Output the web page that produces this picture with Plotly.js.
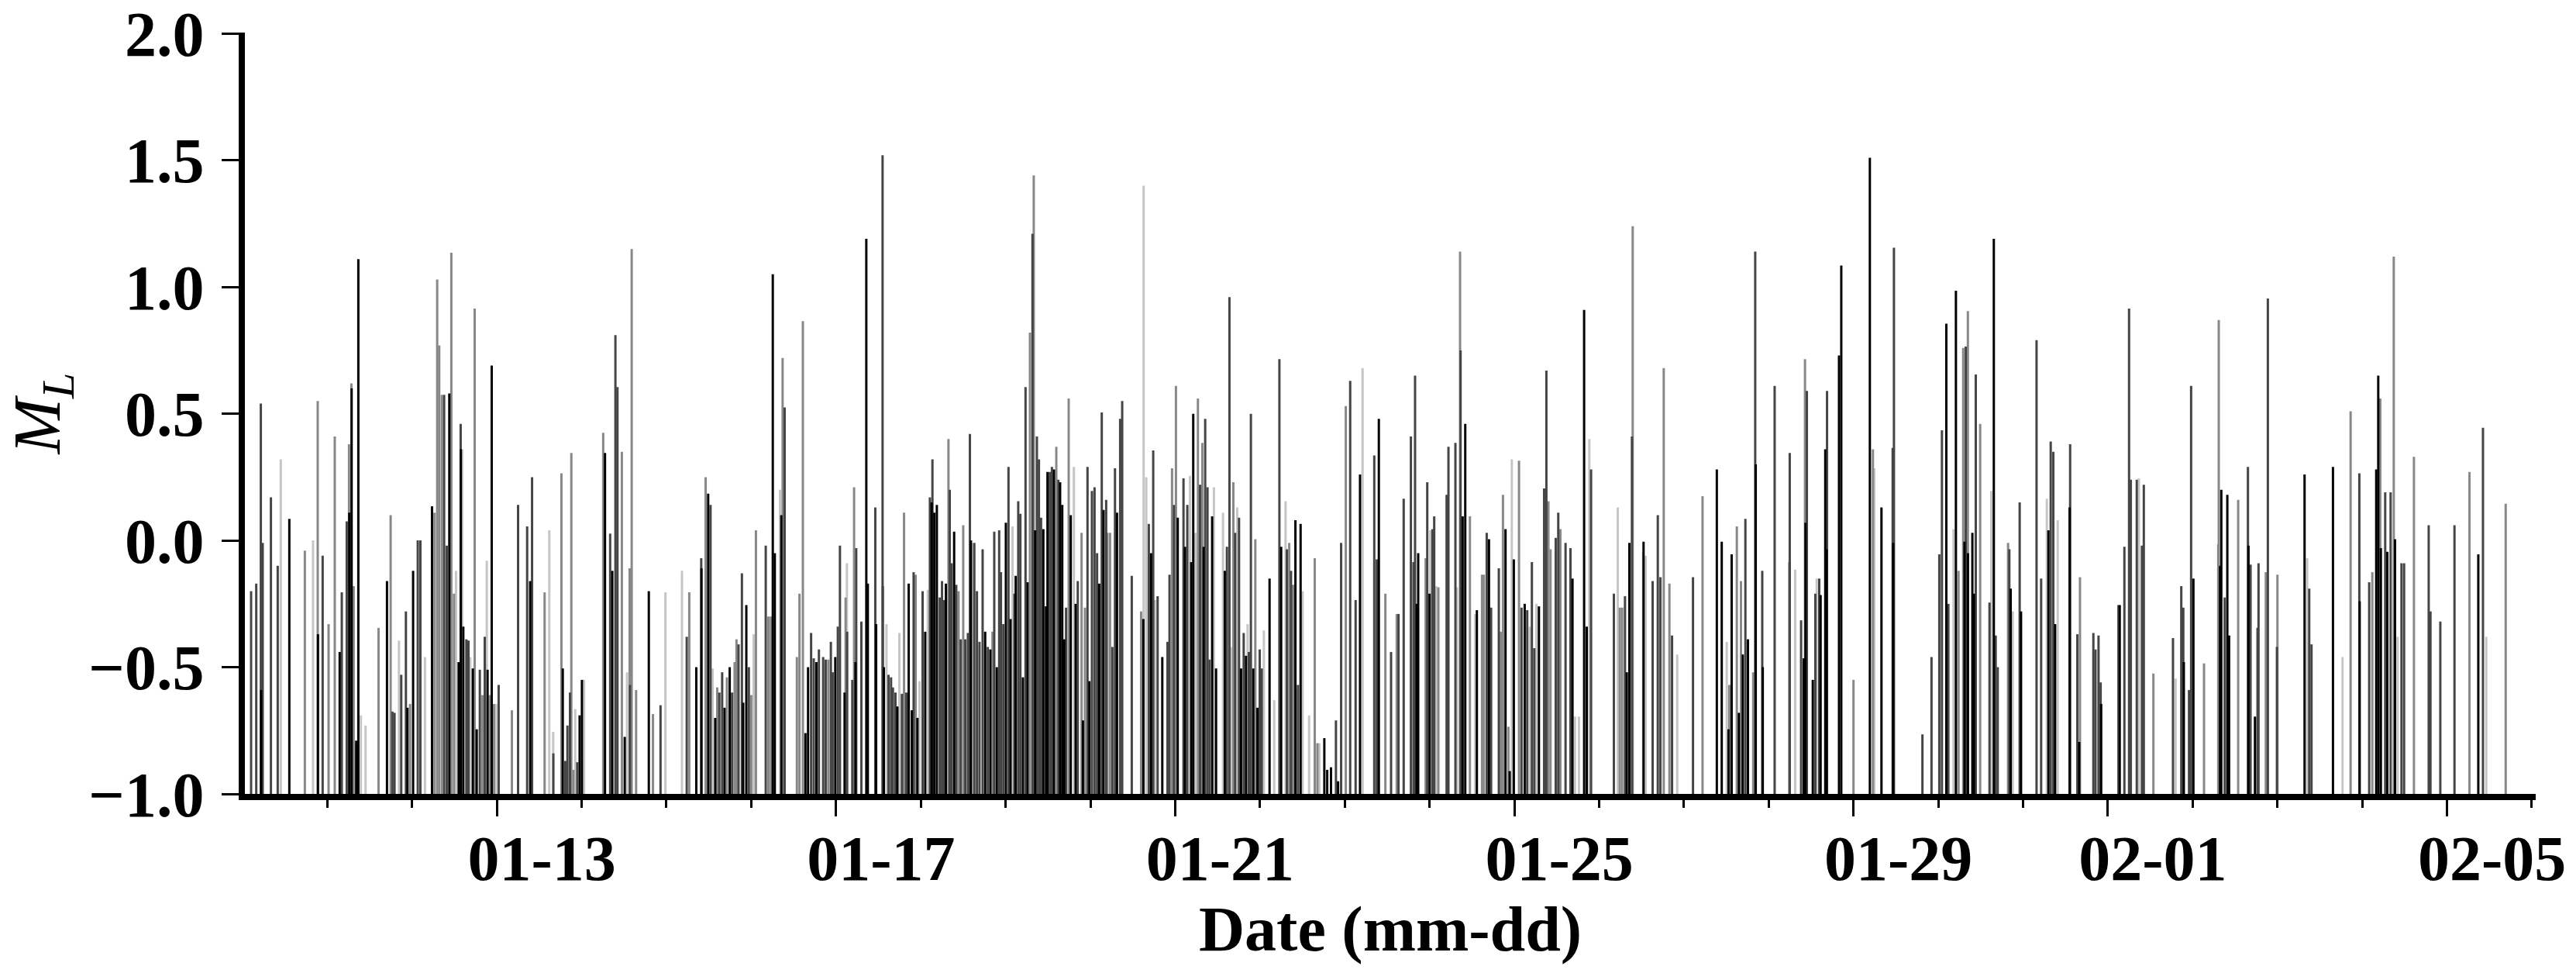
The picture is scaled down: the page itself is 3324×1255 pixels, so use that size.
<!DOCTYPE html>
<html>
<head>
<meta charset="utf-8">
<script src="https://cdn.plot.ly/plotly-3.0.1.min.js"></script>
<style>
  html, body { margin: 0; padding: 0; background: #ffffff; }
  #chart { width: 3324px; height: 1255px; }
</style>
</head>
<body>
<div id="chart"></div>
<script>
// Event times are given as "day of January" (fractional); values above 31 fall in February.
// Magnitudes (M_L), grouped by the grey shade of each stem.

const blackDay = [10.219,10.552,10.89,11.146,11.259,11.287,11.341,11.366,11.704,11.945,12.012,12.235,12.439,12.549,12.575,12.604,12.716,12.762,12.89,12.939,13.393,13.777,13.976,14.003,14.275,14.361,14.508,14.792,15.352,15.413,15.492,15.575,15.685,15.746,15.905,15.942,16.254,16.278,16.355,16.639,16.67,16.768,16.991,17.101,17.229,17.357,17.375,17.473,17.564,17.723,17.857,17.893,17.96,18.052,18.128,18.159,18.189,18.296,18.393,18.591,18.759,18.82,18.896,19.003,19.058,19.119,19.204,19.259,19.348,19.445,19.476,19.494,19.57,19.643,19.668,19.692,19.768,19.826,19.912,19.988,20.104,20.155,20.314,20.625,20.716,20.848,21.03,21.116,21.189,21.213,21.335,21.436,21.482,21.585,21.777,21.835,21.921,21.97,22.113,22.25,22.418,22.479,22.759,22.793,22.838,22.921,23.18,23.402,23.848,23.866,24.0,24.39,24.421,24.558,24.701,24.896,24.945,24.994,25.122,25.29,25.686,25.823,25.854,26.326,26.357,26.524,27.388,27.446,27.526,27.563,27.648,27.694,27.755,27.847,27.93,28.413,28.434,28.52,28.612,28.667,28.682,28.829,28.856,29.193,29.33,29.468,30.095,30.208,30.309,30.35,30.402,30.421,30.655,30.854,30.976,31.299,31.378,31.549,31.662,31.921,32.14,32.896,33.009,33.323,33.338,33.409,33.43,33.659,33.735,34.32,34.655,34.97,35.165,35.189,35.22,35.296,35.387,36.369];
const blackMag = [-0.59,0.085,-0.37,-0.44,0.11,0.60,-0.79,1.11,-0.16,-0.66,-0.12,0.135,0.58,-0.48,0.36,-0.34,-0.505,-0.745,-0.51,0.69,-0.16,-0.505,-0.69,-0.55,0.345,-0.12,-0.775,-0.20,-0.50,-0.11,0.185,-0.70,-0.66,-0.50,-0.64,-0.255,1.05,-0.05,0.10,-0.76,-0.50,-0.48,-0.46,-0.60,-0.48,1.19,-0.17,-0.33,-0.50,-0.655,-0.17,-0.67,-0.70,-0.36,0.15,0.11,0.14,-0.17,0.035,0.0,-0.36,-0.43,-0.50,0.07,-0.31,-0.14,-0.54,-0.165,0.04,0.045,-0.26,0.27,0.28,0.23,0.14,-0.39,0.10,-0.25,-0.71,-0.555,-0.17,0.12,0.11,-0.31,-0.05,-0.46,0.09,-0.025,-0.085,0.50,-0.025,0.095,-0.505,-0.12,-0.505,-0.455,-0.505,-0.66,-0.15,-0.025,0.08,0.065,-0.78,-0.905,-0.895,-0.95,0.26,0.48,-0.25,-0.05,-0.21,0.095,0.46,-0.275,0.005,0.045,-0.91,-0.075,-0.25,-0.26,-0.15,0.91,-0.34,-0.52,-0.01,-0.005,0.28,-0.005,-0.745,-0.055,-0.68,-0.45,-0.39,0.30,-0.50,-0.465,0.07,-0.55,-0.215,0.36,-0.035,0.73,1.085,1.51,0.13,-0.01,0.855,0.985,-0.005,-0.05,0.03,-0.21,1.19,-0.19,-0.28,0.04,-0.33,0.13,-0.795,-0.645,-0.255,-0.48,-0.15,-0.10,0.20,0.18,-0.375,-0.02,-0.695,0.26,0.29,-0.24,0.28,0.65,-0.03,-0.045,0.005,-0.055];

const darkDay = [10.101,10.162,10.216,10.238,10.335,10.415,10.945,11.171,11.229,11.768,11.793,11.872,11.927,12.067,12.098,12.378,12.409,12.573,12.64,12.665,12.799,12.857,13.021,13.25,13.357,13.415,13.666,13.807,13.832,13.862,13.948,14.336,14.398,14.422,14.569,14.93,15.239,15.41,15.52,15.624,15.657,15.774,15.85,15.89,15.972,16.171,16.394,16.706,16.737,16.798,16.848,16.878,16.939,16.96,17.021,17.046,17.131,17.192,17.238,17.299,17.463,17.549,17.552,17.619,17.649,17.671,17.701,17.777,17.829,17.915,18.021,18.107,18.137,18.223,18.25,18.274,18.341,18.363,18.418,18.47,18.524,18.555,18.579,18.631,18.662,18.692,18.729,18.79,18.866,18.924,18.945,18.973,19.034,19.104,19.149,19.174,19.235,19.317,19.369,19.393,19.418,19.521,19.546,19.622,19.713,19.851,19.966,20.018,20.049,20.079,20.134,20.186,20.259,20.29,20.351,20.375,20.488,20.689,20.741,20.793,20.909,20.933,20.985,21.098,21.143,21.293,21.354,21.381,21.405,21.61,21.64,21.707,21.753,21.808,21.869,21.893,21.997,22.021,22.229,22.317,22.366,22.448,22.896,22.957,23.064,23.128,23.348,23.378,23.546,23.634,23.695,23.78,23.811,23.829,23.973,24.034,24.055,24.201,24.223,24.305,24.366,24.674,24.726,24.817,25.085,25.152,25.207,25.235,25.351,25.378,25.488,25.518,25.604,25.662,25.905,26.174,26.305,26.387,26.631,26.692,26.723,26.86,27.107,27.725,27.841,27.924,28.07,28.245,28.248,28.382,28.45,28.55,28.596,28.688,29.462,29.477,29.813,29.92,30.012,30.043,30.119,30.324,30.442,30.604,30.677,30.701,30.838,30.96,31.159,31.213,31.326,31.357,31.555,31.64,31.829,31.854,31.89,31.915,32.125,32.195,32.25,32.271,32.341,32.402,32.424,32.768,32.866,32.89,32.957,32.982,33.378,33.652,33.683,33.765,33.777,33.887,33.994,34.375,34.402,34.966,35.082,35.271,35.335,35.463,35.494,35.784,35.805,35.921,36.088,36.424];
const darkMag = [-0.20,-0.17,0.54,-0.01,0.17,-0.10,-0.06,-0.205,0.075,-0.675,-0.68,-0.53,-0.28,0.0,0.0,0.575,-0.02,0.46,-0.39,-0.395,-0.51,-0.38,-0.57,0.14,0.055,0.25,-0.84,-0.87,-0.73,-0.60,-0.875,0.027,0.81,0.605,-0.57,-0.65,-0.38,-0.07,0.14,-0.60,-0.52,-0.60,-0.41,-0.13,-0.50,-0.02,0.525,-0.365,-0.465,-0.43,-0.46,-0.47,-0.40,-0.52,-0.34,-0.02,-0.36,-0.55,-0.03,-0.32,0.13,1.52,-0.18,-0.53,-0.54,-0.58,-0.60,-0.605,-0.60,-0.125,-0.20,0.17,0.32,-0.225,-0.16,-0.235,0.20,-0.09,-0.175,-0.39,-0.39,-0.365,0.42,-0.01,-0.20,-0.40,-0.035,-0.42,0.035,0.04,-0.125,-0.33,0.29,-0.21,0.155,0.105,0.605,1.21,0.41,0.32,0.09,0.27,0.29,0.24,-0.265,-0.16,0.29,0.195,0.21,-0.05,0.505,0.16,-0.42,0.285,0.48,0.55,-0.14,0.065,0.355,-0.22,-0.40,-0.135,0.14,0.245,0.14,0.22,0.48,0.21,-0.47,-0.025,0.96,0.03,0.09,-0.365,-0.44,0.50,-0.43,-0.505,0.715,-0.035,-0.12,-0.57,-0.71,-0.01,0.63,-0.235,0.335,-0.075,-0.44,-0.29,0.165,0.41,-0.085,0.65,0.23,0.045,0.095,0.18,0.37,0.385,0.75,0.03,-0.265,-0.11,-0.265,-0.275,-0.085,-0.425,0.205,0.67,0.01,0.11,-0.01,-0.03,0.28,-0.21,-0.22,0.41,-0.16,0.10,-0.145,-0.375,-0.145,0.085,1.14,-0.12,0.61,-0.085,0.345,-0.315,0.59,-0.21,-0.15,0.59,0.365,1.155,-0.765,-0.46,-0.055,0.435,-0.25,0.765,0.655,-0.245,-0.375,-0.50,-0.035,0.15,0.79,-0.15,0.39,0.35,0.38,-0.37,-0.365,-0.43,-0.375,-0.56,-0.255,-0.025,0.915,0.24,0.24,-0.02,0.22,-0.385,-0.18,-0.265,-0.59,0.61,-0.225,0.29,-0.095,-0.345,-0.09,0.955,-0.42,-0.19,-0.41,0.265,-0.165,0.19,0.19,-0.09,-0.09,0.06,-0.28,-0.32,0.06,0.445];

const grayDay = [10.735,10.887,11.015,11.088,11.256,11.284,11.311,11.604,11.747,11.976,12.265,12.296,12.32,12.351,12.463,12.494,12.738,12.829,12.915,12.966,13.177,13.563,13.761,13.878,13.902,14.254,14.474,14.566,14.59,14.642,14.841,15.269,15.462,15.599,15.713,15.804,15.826,16.0,16.055,16.202,16.232,16.37,16.538,16.569,16.609,16.909,17.113,17.213,17.802,17.939,18.326,18.445,18.5,18.845,19.287,19.332,19.598,19.744,19.896,19.936,20.201,20.232,20.598,20.963,21.009,21.268,21.32,21.686,21.945,22.345,22.39,22.646,22.677,23.012,23.479,23.613,23.954,24.104,24.36,24.476,24.619,24.64,24.841,24.866,24.93,25.055,25.402,25.427,25.543,26.244,26.271,26.396,26.762,26.829,27.22,27.535,27.624,27.673,27.817,28.428,29.0,29.229,30.239,30.294,30.349,30.494,30.823,31.671,32.537,33.134,33.302,33.308,33.537,33.863,34.0,34.863,35.119,35.213,35.372,35.61,36.265,36.692];
const grayMag = [-0.04,0.55,-0.33,0.41,0.38,0.62,-0.18,-0.345,0.10,-0.645,0.11,1.03,0.77,0.575,1.135,-0.21,0.915,-0.61,-0.61,-0.645,-0.67,-0.205,0.265,0.345,-0.905,0.425,0.35,-0.11,1.15,-0.59,-0.685,-0.205,0.25,-0.58,-0.54,-0.48,-0.39,-0.61,0.04,-0.30,-0.30,0.72,-0.46,-0.21,0.865,-0.47,-0.225,0.21,0.11,-0.135,0.40,-0.20,0.06,-0.36,0.82,1.44,0.37,0.56,0.03,-0.265,0.03,0.03,-0.28,0.285,0.61,0.56,0.385,0.23,0.005,-0.01,-0.175,-0.07,-0.80,0.53,-0.21,-0.29,-0.07,-0.185,1.14,0.095,-0.135,-0.135,-0.36,0.18,-0.735,0.315,0.155,-0.035,0.045,-0.265,-0.265,1.24,0.68,-0.17,0.175,-0.57,0.055,-0.16,-0.52,0.715,-0.55,0.36,-0.12,0.76,0.905,0.46,-0.01,-0.145,-0.525,-0.485,-0.015,0.87,0.16,-0.125,-0.135,0.51,-0.125,0.56,1.12,0.33,0.27,0.145];

const lightDay = [10.451,10.832,11.396,11.451,11.845,12.152,12.518,12.591,12.686,12.881,12.991,13.618,13.664,13.924,14.028,14.535,14.988,15.183,15.544,16.028,16.339,17.128,17.595,17.747,17.985,18.082,18.61,19.082,19.805,20.628,20.659,20.762,21.174,21.238,21.457,21.564,21.665,21.732,21.854,22.046,22.168,22.302,22.503,22.579,22.701,23.21,24.009,24.079,24.323,24.537,24.97,25.183,25.259,25.716,25.762,25.884,26.22,26.518,26.549,26.921,27.505,28.312,28.566,29.245,30.18,30.625,30.878,31.28,31.409,32.366,32.799,34.351,34.768,35.418,36.463];
const lightMag = [0.32,0.0,-0.69,-0.73,-0.395,-0.46,-0.12,0.36,-0.46,-0.08,-0.645,0.04,-0.755,-0.665,-0.55,-0.52,-0.205,-0.12,-0.505,-0.37,0.20,-0.09,-0.33,-0.365,-0.555,-0.195,-0.01,0.055,0.29,1.40,0.25,-0.235,0.255,0.03,0.21,0.11,-0.42,0.13,-0.33,-0.355,-0.63,0.155,-0.20,-0.69,-0.80,0.68,0.04,-0.18,-0.185,-0.29,0.32,-0.34,-0.25,-0.695,-0.695,0.40,0.13,-0.045,-0.06,-0.45,-0.40,-0.115,-0.15,0.285,0.045,0.195,-0.28,0.165,0.08,0.245,-0.545,-0.07,-0.46,-0.38,-0.38];

const xTickDates  = ['2023-01-13', '2023-01-17', '2023-01-21', '2023-01-25', '2023-01-29', '2023-02-01', '2023-02-05'];
const xTickLabels = ['01-13', '01-17', '01-21', '01-25', '01-29', '02-01', '02-05'];
const yTickValues = [-1.0, -0.5, 0.0, 0.5, 1.0, 1.5, 2.0];
const yTickLabels = ['\u22121.0', '\u22120.5', '0.0', '0.5', '1.0', '1.5', '2.0'];
const baseMag = -1.0;

// ---- build the stems ----
const DAY_MS = 86400000;
const JAN1 = Date.UTC(2023, 0, 1);
function dayToDate(d) {
  const iso = new Date(JAN1 + (d - 1) * DAY_MS).toISOString();
  return iso.slice(0, 19).replace('T', ' ');
}
function stemTrace(days, mags, color) {
  const x = [], y = [];
  for (let i = 0; i < days.length; i++) {
    const t = dayToDate(days[i]);
    x.push(t, t, null);
    y.push(baseMag, mags[i], null);
  }
  return {
    type: 'scatter', mode: 'lines', x: x, y: y,
    line: { color: color, width: 3 },
    connectgaps: false, hoverinfo: 'skip', showlegend: false
  };
}

const data = [
  stemTrace(lightDay, lightMag, '#c6c6c6'),
  stemTrace(grayDay, grayMag, '#888888'),
  stemTrace(darkDay, darkMag, '#454545'),
  stemTrace(blackDay, blackMag, '#000000')
];

const fontFam = '"Liberation Serif", "Times New Roman", Times, serif';

const layout = {
  width: 3324, height: 1255,
  margin: { l: 316, r: 52, t: 42, b: 231, pad: 0 },
  paper_bgcolor: '#ffffff', plot_bgcolor: '#ffffff',
  showlegend: false,
  font: { family: fontFam, color: '#000000' },
  xaxis: {
    type: 'date',
    range: [dayToDate(10.028), dayToDate(37.046)],
    showgrid: false, zeroline: false,
    showline: true, linecolor: '#000000', linewidth: 8,
    ticks: 'outside', ticklen: 21, tickwidth: 3, tickcolor: '#000000',
    tickmode: 'array', tickvals: xTickDates, ticktext: xTickLabels,
    ticklabelshift: 58, ticklabelstandoff: -16, ticklabeloverflow: 'allow',
    tickfont: { family: fontFam, size: 82, weight: 'bold', color: '#000000' },
    minor: { ticks: 'outside', ticklen: 10, tickwidth: 3, tickcolor: '#000000', dtick: DAY_MS, tick0: '2023-01-10', showgrid: false },
    title: { text: 'Date (mm-dd)', standoff: 4, font: { family: fontFam, size: 82, weight: 'bold', color: '#000000' } }
  },
  yaxis: {
    range: [-1, 2.004],
    showgrid: false, zeroline: false,
    showline: true, linecolor: '#000000', linewidth: 8,
    ticks: 'outside', ticklen: 22, tickwidth: 3, tickcolor: '#000000',
    tickmode: 'array', tickvals: yTickValues, ticktext: yTickLabels,
    ticklabelstandoff: 6, ticklabeloverflow: 'allow',
    tickfont: { family: fontFam, size: 82, weight: 'bold', color: '#000000' },
    title: { text: '<i>M</i><sub><i>L</i></sub>', standoff: 12, font: { family: fontFam, size: 86, color: '#000000' } }
  }
};

Plotly.newPlot('chart', data, layout, { staticPlot: true, displayModeBar: false });
</script>
</body>
</html>
